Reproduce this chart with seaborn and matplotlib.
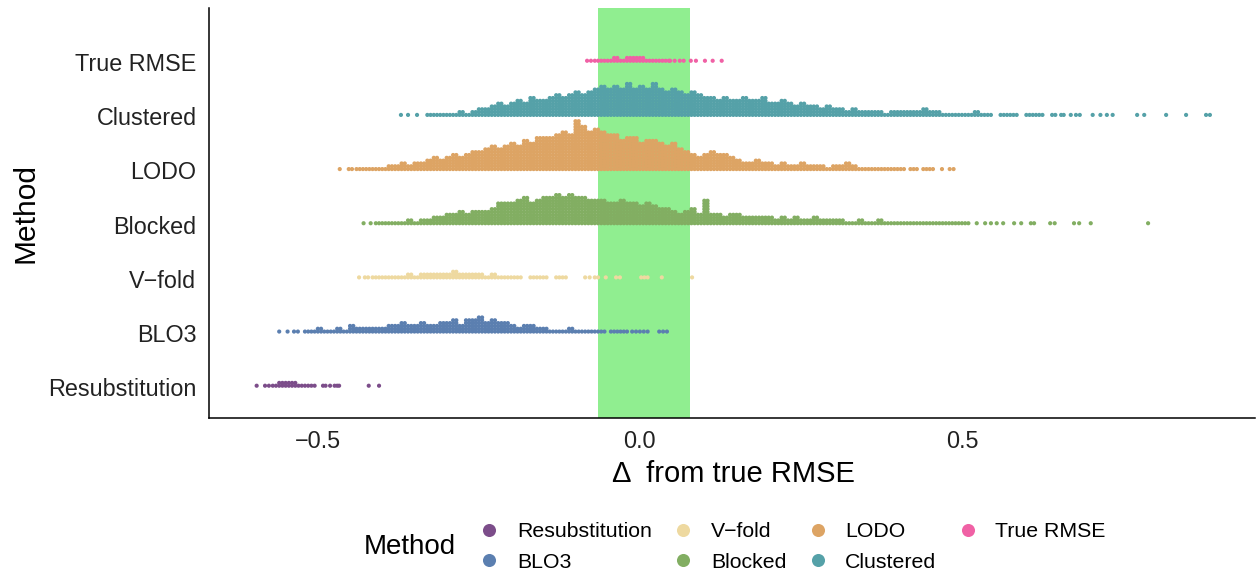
import numpy as np
import pandas as pd
import matplotlib
matplotlib.use("Agg")
import matplotlib.pyplot as plt
from matplotlib.lines import Line2D
import seaborn as sns

methods = ["Resubstitution", "BLO3", "V\u2212fold", "Blocked", "LODO", "Clustered", "True RMSE"]
colors = ["#7C4D8A", "#5B7FB0", "#EED9A0", "#82AE62", "#DDA464", "#55A1A8", "#F061A5"]

# dot stack heights per 0.01 bin (each bin = two dot columns), plus lone dots
resub_start = -0.57
resub_stack = [1, 2, 2, 2, 1, 1, 1]
resub_single = [-0.595, -0.582, -0.576, -0.492, -0.488, -0.481, -0.474, -0.470, -0.467, -0.421, -0.405]

blo3_start = -0.52
blo3_stack = [1, 1, 2, 1, 1, 2,
              1, 3, 2, 2, 2, 2, 2, 3, 3, 4,
              3, 3, 4, 3, 3, 4, 4, 5, 3, 5,
              5, 6, 4, 5, 4, 4, 3, 2, 3, 3,
              2, 2, 1, 1, 1, 2, 1, 1, 1, 1,
              1]
blo3_single = [-0.560, -0.547, -0.537, -0.531, -0.045, -0.040, -0.035, -0.030, -0.025, -0.020,
               -0.012, -0.006, 0.0, 0.006, 0.012, 0.030, 0.036, 0.042]

vfold_start = -0.41
vfold_stack = [1, 1, 1, 1, 1, 2, 1, 2, 2, 2, 2, 2, 3, 2, 2, 2, 2, 1, 2, 1, 1,
               1, 1, 0, 1, 1, 1, 0, 1, 1]
vfold_single = [-0.436, -0.427, -0.422, -0.415, -0.085, -0.078, -0.070, -0.065, -0.053,
                -0.037, -0.031, 0.002, 0.007, 0.012, 0.034, 0.081]

blocked_start = -0.41
blocked_stack = [1, 1, 1, 1, 1, 2, 1, 2, 2, 3,
                 3, 4, 4, 5, 4, 5, 5, 5, 6, 8,
                 8, 8, 9, 10, 8, 9, 10, 10, 11, 10,
                 11, 10, 10, 9, 9, 9, 8, 8, 9, 8,
                 8, 7, 8, 7, 6, 6, 5, 4, 5, 6,
                 4, 9, 4, 4, 3, 4, 4, 3, 3, 3,
                 3, 3, 2, 3, 2, 3, 2, 2, 3, 2,
                 2, 2, 2, 1, 1, 2, 1, 1, 2, 1,
                 1, 1, 1, 1, 1, 1, 1, 1, 1, 1]
blocked_single = [-0.429, -0.418, 0.49, 0.495, 0.50, 0.505, 0.51, 0.523, 0.536, 0.545, 0.554,
                  0.564, 0.581, 0.592, 0.607, 0.612, 0.637, 0.644, 0.674, 0.682, 0.700, 0.789]

lodo_start = -0.44
lodo_stack = [1, 1, 1, 1, 1, 2, 2, 3, 2, 3,
              3, 4, 5, 4, 5, 6, 5, 6, 7, 7,
              8, 9, 8, 9, 10, 9, 11, 10, 12, 12,
              12, 13, 14, 13, 18, 16, 14, 15, 14, 13,
              13, 11, 12, 12, 10, 11, 11, 10, 9, 10,
              8, 7, 6, 5, 6, 7, 6, 6, 5, 4,
              3, 3, 4, 3, 3, 2, 3, 2, 2, 3,
              2, 2, 2, 1, 2, 2, 3, 2, 1, 1, 1, 1, 1, 1]
lodo_single = [-0.466, -0.452, -0.447, 0.40, 0.405, 0.41, 0.42, 0.425, 0.43, 0.44, 0.445,
               0.45, 0.455, 0.469, 0.481, 0.487]

clustered_start = -0.33
clustered_stack = [1, 1, 1, 1,
                   1, 2, 1, 2, 3, 3, 4, 5, 4, 5,
                   6, 5, 7, 6, 6, 7, 8, 7, 8, 9,
                   8, 9, 10, 11, 10, 11, 10, 12, 10, 11,
                   10, 12, 10, 9, 10, 9, 8, 9, 8, 7,
                   7, 6, 7, 6, 6, 7, 6, 6, 7, 5,
                   5, 6, 5, 4, 5, 4, 4, 3, 4, 3,
                   3, 2, 3, 2, 2, 2, 2, 1, 2, 2, 2, 2, 2, 3, 2, 2, 1, 1, 1,
                   1, 1, 2, 1, 1, 0, 1, 1, 1, 0, 1, 1, 1, 0, 1]
clustered_single = [-0.371, -0.360, -0.346, 0.654, 0.658, 0.669, 0.677, 0.683, 0.703, 0.715,
                    0.725, 0.734, 0.772, 0.783, 0.817, 0.848, 0.879, 0.885]

true_start = -0.07
true_stack = [1, 1, 1, 2, 1, 2, 2, 2, 1, 1, 1, 1]
true_single = [-0.082, -0.076, 0.047, 0.054, 0.062, 0.068, 0.079, 0.087, 0.101, 0.113, 0.127]

band = (-0.065, 0.078)

bin_w = 0.01
col_w = 0.005
dot_h = 0.052


def dots(idx, start, stack, single):
    out = []
    for i, n in enumerate(stack):
        for c in (0.0, col_w):
            for k in range(n):
                out.append((start + i * bin_w + c, idx + (k + 0.5) * dot_h))
    for x in single:
        out.append((x, idx + 0.5 * dot_h))
    return out


series = [
    (resub_start, resub_stack, resub_single),
    (blo3_start, blo3_stack, blo3_single),
    (vfold_start, vfold_stack, vfold_single),
    (blocked_start, blocked_stack, blocked_single),
    (lodo_start, lodo_stack, lodo_single),
    (clustered_start, clustered_stack, clustered_single),
    (true_start, true_stack, true_single),
]

frames = []
for i, (m, (st, sk, sg)) in enumerate(zip(methods, series)):
    d = pd.DataFrame(dots(i, st, sk, sg), columns=["delta", "pos"])
    d["Method"] = m
    frames.append(d)
df = pd.concat(frames, ignore_index=True)

sns.set_style("white")
plt.rcParams["font.family"] = ["Liberation Sans", "DejaVu Sans"]

fig = plt.figure(figsize=(12.57, 5.76), dpi=100)
ax = fig.add_axes([209 / 1257, 1 - 418 / 576, 1046 / 1257, 410 / 576])

ax.axvspan(band[0], band[1], color="#90EE90", lw=0, zorder=0)
sns.scatterplot(data=df, x="delta", y="pos", hue="Method", hue_order=methods,
                palette=dict(zip(methods, colors)), s=9, linewidth=0,
                legend=False, ax=ax, zorder=2)

ax.set_xlim(-0.669, 0.955)
ax.set_ylim(-0.57, 7.0)
ax.set_yticks(range(len(methods)))
ax.set_yticklabels(methods)
ax.set_xticks([-0.5, 0.0, 0.5])
ax.set_xticklabels(["\u22120.5", "0.0", "0.5"])
ax.tick_params(axis="both", length=0, labelsize=16.8, labelcolor="#222222", pad=9)

for s in ["top", "right"]:
    ax.spines[s].set_visible(False)
for s in ["left", "bottom"]:
    ax.spines[s].set_color("black")
    ax.spines[s].set_linewidth(1.1)

ax.set_xlabel("\u0394  from true RMSE", fontsize=21, color="black")
ax.set_ylabel("Method", fontsize=21.5, color="black")
ax.xaxis.set_label_coords(0.501, -0.103)
ax.yaxis.set_label_coords(-0.162, 0.5)

handles = [Line2D([0], [0], marker="o", ls="", markersize=9.4, markerfacecolor=c,
                  markeredgewidth=0) for c in colors]
fig.legend(handles, methods, ncol=4, loc="center left",
           bbox_to_anchor=(478.6 / 1257, 1 - 547 / 576), frameon=False, fontsize=15.3,
           handlelength=1.0, handletextpad=0.8, columnspacing=0.98,
           labelspacing=0.55, borderpad=0, borderaxespad=0, labelcolor="black")
fig.text(410 / 1257, 1 - 547 / 576, "Method", fontsize=20, ha="center", va="center",
         color="black")

fig.savefig("out.png", dpi=100)
